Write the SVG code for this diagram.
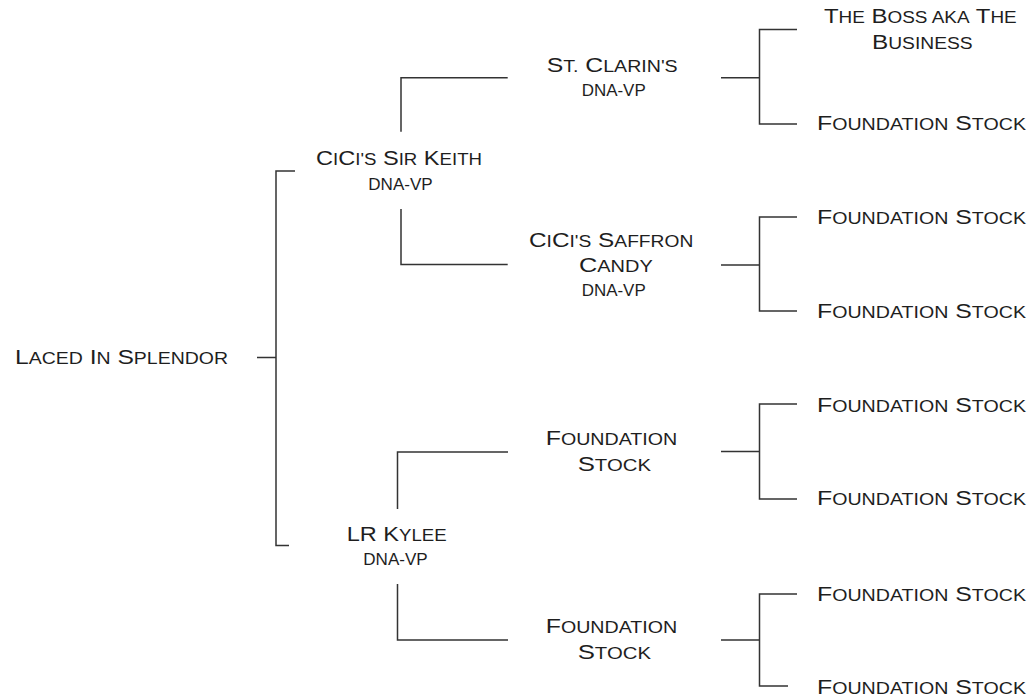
<svg xmlns="http://www.w3.org/2000/svg" width="1031" height="698" viewBox="0 0 1031 698">
<style>
text { font-family: "Liberation Sans", Arial, sans-serif; font-size: 20px; fill: #1e1e1e; }
.s { font-size: 15.8px; text-transform: uppercase; }
.c { fill: none; stroke: #333; stroke-width: 1.5; }
</style>
<rect width="1031" height="698" fill="#fff"/>
<g id="connectors" class="c">
  <path d="M257,357.5 H276 M295,171 H276 V545.5 H289"/>
  <path d="M507.7,77.7 H401 V131.7 M401,209 V264.5 H507.7"/>
  <path d="M508,452 H397.5 V509 M397.5,584 V640 H508"/>
  <path d="M721,77.7 H759.5 M797,29.5 H759.5 V124 H797"/>
  <path d="M721,265 H759.5 M797,217 H759.5 V311 H797"/>
  <path d="M721,451.5 H759.5 M797,404 H759.5 V499 H797"/>
  <path d="M721,640 H759.5 M797,594 H759.5 V686 H788"/>
</g>
<g id="n-laced"><text x="15" y="364" textLength="213" lengthAdjust="spacingAndGlyphs">L<tspan class="s">aced</tspan> I<tspan class="s">n</tspan> S<tspan class="s">plendor</tspan></text></g>
<g id="n-keith">
  <text x="316" y="165" textLength="166" lengthAdjust="spacingAndGlyphs">C<tspan class="s">i</tspan>C<tspan class="s">i's</tspan> S<tspan class="s">ir</tspan> K<tspan class="s">eith</tspan></text>
  <text x="368.3" y="190" textLength="64.4" lengthAdjust="spacingAndGlyphs"><tspan class="s">dna-vp</tspan></text>
</g>
<g id="n-kylee">
  <text x="346.7" y="541" textLength="100" lengthAdjust="spacingAndGlyphs">LR K<tspan class="s">ylee</tspan></text>
  <text x="363.3" y="565" textLength="64.4" lengthAdjust="spacingAndGlyphs"><tspan class="s">dna-vp</tspan></text>
</g>
<g id="n-clarin">
  <text x="546.7" y="72.3" textLength="131" lengthAdjust="spacingAndGlyphs">S<tspan class="s">t.</tspan> C<tspan class="s">larin's</tspan></text>
  <text x="581.7" y="95.7" textLength="64" lengthAdjust="spacingAndGlyphs"><tspan class="s">dna-vp</tspan></text>
</g>
<g id="n-saffron">
  <text x="529" y="246.7" textLength="164.3" lengthAdjust="spacingAndGlyphs">C<tspan class="s">i</tspan>C<tspan class="s">i's</tspan> S<tspan class="s">affron</tspan></text>
  <text x="579" y="272.3" textLength="73.7" lengthAdjust="spacingAndGlyphs">C<tspan class="s">andy</tspan></text>
  <text x="581.7" y="295.7" textLength="64" lengthAdjust="spacingAndGlyphs"><tspan class="s">dna-vp</tspan></text>
</g>
<g id="n-fs-m1">
  <text x="545.7" y="445" textLength="131.6" lengthAdjust="spacingAndGlyphs">F<tspan class="s">oundation</tspan></text>
  <text x="577.7" y="471" textLength="73.3" lengthAdjust="spacingAndGlyphs">S<tspan class="s">tock</tspan></text>
</g>
<g id="n-fs-m2">
  <text x="545.7" y="633.3" textLength="131.6" lengthAdjust="spacingAndGlyphs">F<tspan class="s">oundation</tspan></text>
  <text x="577.7" y="659.3" textLength="73.3" lengthAdjust="spacingAndGlyphs">S<tspan class="s">tock</tspan></text>
</g>
<g id="n-boss">
  <text x="824" y="23.3" textLength="192.7" lengthAdjust="spacingAndGlyphs">T<tspan class="s">he</tspan> B<tspan class="s">oss aka</tspan> T<tspan class="s">he</tspan></text>
  <text x="872" y="49" textLength="100.7" lengthAdjust="spacingAndGlyphs">B<tspan class="s">usiness</tspan></text>
</g>
<g id="n-fs-r1"><text x="817" y="130" textLength="209" lengthAdjust="spacingAndGlyphs">F<tspan class="s">oundation</tspan> S<tspan class="s">tock</tspan></text></g>
<g id="n-fs-r2"><text x="817" y="224" textLength="209" lengthAdjust="spacingAndGlyphs">F<tspan class="s">oundation</tspan> S<tspan class="s">tock</tspan></text></g>
<g id="n-fs-r3"><text x="817" y="318" textLength="209" lengthAdjust="spacingAndGlyphs">F<tspan class="s">oundation</tspan> S<tspan class="s">tock</tspan></text></g>
<g id="n-fs-r4"><text x="817" y="411.5" textLength="209" lengthAdjust="spacingAndGlyphs">F<tspan class="s">oundation</tspan> S<tspan class="s">tock</tspan></text></g>
<g id="n-fs-r5"><text x="817" y="505" textLength="209" lengthAdjust="spacingAndGlyphs">F<tspan class="s">oundation</tspan> S<tspan class="s">tock</tspan></text></g>
<g id="n-fs-r6"><text x="817" y="601" textLength="209" lengthAdjust="spacingAndGlyphs">F<tspan class="s">oundation</tspan> S<tspan class="s">tock</tspan></text></g>
<g id="n-fs-r7"><text x="817" y="694" textLength="209" lengthAdjust="spacingAndGlyphs">F<tspan class="s">oundation</tspan> S<tspan class="s">tock</tspan></text></g>
</svg>
